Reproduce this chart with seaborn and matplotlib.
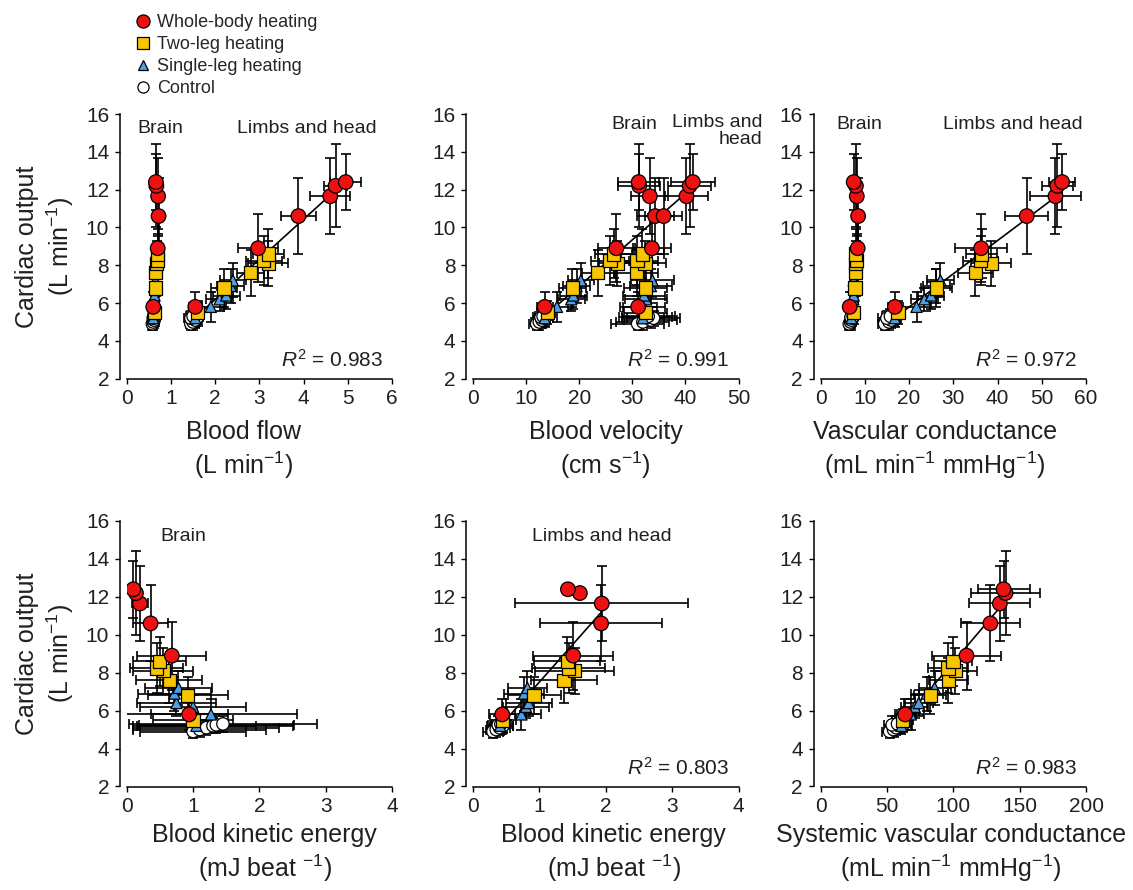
# cardiac output vs regional haemodynamics during heating:
# six panels, brain and limbs/head values with mean +/- SD bars

import seaborn as sns
import pandas as pd
import matplotlib.pyplot as plt
import numpy as np
from matplotlib.lines import Line2D

sns.set_style('ticks')
plt.rcParams['font.family'] = ['Liberation Sans', 'DejaVu Sans']
plt.rcParams['mathtext.fontset'] = 'custom'
plt.rcParams['mathtext.rm'] = 'Liberation Sans'
plt.rcParams['mathtext.it'] = 'Liberation Sans:italic'
plt.rcParams['mathtext.bf'] = 'Liberation Sans:bold'

# groups in drawing order (control at the back, whole-body on top)
groups = ['CT', 'SL', 'TL', 'WB']
group_names = {'WB': 'Whole-body heating', 'TL': 'Two-leg heating',
               'SL': 'Single-leg heating', 'CT': 'Control'}

# cardiac output (L/min), mean and SD
co_wb = [5.8, 8.9, 10.6, 11.65, 12.2, 12.4]
co_wb_err = [0.8, 1.8, 2.0, 2.0, 2.2, 1.5]
co_tl = [5.5, 6.8, 7.6, 8.1, 8.25, 8.6]
co_tl_err = [0.6, 1.0, 1.2, 1.2, 1.3, 1.3]
co_sl = [5.2, 5.8, 6.2, 6.4, 6.9, 7.2]
co_sl_err = [0.45, 0.8, 0.6, 0.7, 0.9, 0.9]
co_ct = [4.9, 5.0, 5.1, 5.2, 5.25, 5.3]
co_ct_err = [0.35, 0.4, 0.4, 0.4, 0.45, 0.4]

# blood flow (L/min)
flow_brain = {'WB': [0.60, 0.70, 0.72, 0.71, 0.67, 0.66],
              'TL': [0.63, 0.66, 0.66, 0.68, 0.70, 0.70],
              'SL': [0.60, 0.61, 0.62, 0.63, 0.64, 0.65],
              'CT': [0.58, 0.60, 0.62, 0.60, 0.63, 0.61]}
flow_brain_err = {'WB': [0.05, 0.06, 0.06, 0.06, 0.06, 0.06],
                  'TL': [0.06, 0.06, 0.06, 0.06, 0.06, 0.06],
                  'SL': [0.05, 0.05, 0.05, 0.05, 0.05, 0.05],
                  'CT': [0.06, 0.06, 0.06, 0.06, 0.06, 0.06]}
flow_limbs = {'WB': [1.55, 2.97, 3.88, 4.60, 4.72, 4.95],
              'TL': [1.60, 2.20, 2.80, 3.20, 3.10, 3.20],
              'SL': [1.55, 1.90, 2.10, 2.25, 2.35, 2.40],
              'CT': [1.45, 1.50, 1.55, 1.45, 1.60, 1.50]}
flow_limbs_err = {'WB': [0.15, 0.45, 0.40, 0.45, 0.25, 0.35],
                  'TL': [0.15, 0.30, 0.30, 0.45, 0.40, 0.35],
                  'SL': [0.15, 0.30, 0.30, 0.30, 0.30, 0.30],
                  'CT': [0.12, 0.15, 0.12, 0.15, 0.12, 0.15]}

# blood velocity (cm/s)
vel_brain = {'WB': [31.1, 33.7, 34.3, 33.3, 31.3, 31.2],
             'TL': [32.5, 32.5, 30.8, 32.4, 30.9, 31.9],
             'SL': [32.0, 32.2, 32.6, 32.2, 33.5, 33.8],
             'CT': [31.0, 32.0, 33.5, 34.0, 32.5, 33.0]}
vel_brain_err = {'WB': [3.5, 3.5, 3.5, 3.5, 4.0, 3.9],
                 'TL': [4.0, 4.0, 4.0, 4.0, 4.0, 4.0],
                 'SL': [4.0, 4.0, 4.0, 4.0, 4.0, 4.0],
                 'CT': [5.0, 5.0, 5.0, 5.0, 5.0, 5.0]}
vel_limbs = {'WB': [13.5, 27.0, 35.9, 40.2, 40.8, 41.4],
             'TL': [14.0, 18.7, 23.5, 27.2, 25.8, 26.5],
             'SL': [13.5, 15.8, 18.5, 18.9, 19.5, 20.3],
             'CT': [12.0, 12.5, 13.0, 13.5, 12.8, 13.2]}
vel_limbs_err = {'WB': [1.5, 3.5, 3.5, 4.0, 4.0, 4.2],
                 'TL': [1.5, 2.5, 3.0, 3.5, 3.5, 3.5],
                 'SL': [1.5, 2.0, 2.5, 2.5, 2.5, 2.5],
                 'CT': [1.5, 1.5, 1.5, 1.5, 1.5, 1.5]}

# vascular conductance (mL/min/mmHg)
vc_brain = {'WB': [6.6, 8.4, 8.5, 8.2, 8.0, 7.5],
            'TL': [7.5, 7.8, 8.0, 8.0, 8.2, 8.0],
            'SL': [7.0, 7.2, 7.4, 7.5, 7.6, 7.5],
            'CT': [6.5, 6.8, 7.0, 7.2, 6.9, 7.4]}
vc_brain_err = {'WB': [0.8, 0.8, 0.8, 0.8, 0.8, 0.8],
                'TL': [0.8, 0.8, 0.8, 0.8, 0.8, 0.8],
                'SL': [0.8, 0.8, 0.8, 0.8, 0.8, 0.8],
                'CT': [1.0, 1.0, 1.0, 1.0, 1.0, 1.0]}
vc_limbs = {'WB': [16.8, 36.3, 46.6, 53.1, 53.5, 54.6],
            'TL': [17.5, 26.2, 35.0, 38.6, 36.2, 36.4],
            'SL': [16.8, 21.7, 23.5, 25.0, 26.2, 27.1],
            'CT': [14.5, 15.5, 16.0, 15.0, 16.5, 15.8]}
vc_limbs_err = {'WB': [1.5, 5.8, 4.9, 5.8, 3.5, 3.0],
                'TL': [1.5, 3.5, 4.0, 4.5, 4.0, 3.5],
                'SL': [1.5, 3.0, 3.0, 3.0, 3.0, 3.0],
                'CT': [1.5, 2.0, 1.5, 2.0, 1.5, 2.0]}

# blood kinetic energy (mJ/beat); nan = no error bar shown
ke_brain = {'WB': [0.94, 0.68, 0.36, 0.20, 0.14, 0.10],
            'TL': [1.00, 0.92, 0.64, 0.55, 0.45, 0.50],
            'SL': [1.05, 1.27, 1.00, 0.75, 0.72, 0.78],
            'CT': [1.00, 1.10, 1.20, 1.30, 1.35, 1.45]}
ke_brain_err = {'WB': [0.58, 0.52, 0.26, 0.12, 0.08, 0.06],
                'TL': [0.60, 0.60, 0.50, 0.45, 0.40, 0.40],
                'SL': [0.90, 1.30, 0.80, 0.60, 0.55, 0.50],
                'CT': [0.80, 1.00, 1.10, 1.20, 1.17, 1.42]}
ke_limbs = {'WB': [0.44, 1.51, 1.93, 1.94, 1.61, 1.43],
            'TL': [0.45, 0.92, 1.37, 1.53, 1.44, 1.42],
            'SL': [0.41, 0.73, 0.80, 0.84, 0.77, 0.82],
            'CT': [0.30, 0.35, 0.40, 0.45, 0.38, 0.42]}
ke_limbs_err = {'WB': [0.20, 0.60, 0.92, 1.30, np.nan, np.nan],
                'TL': [0.20, 0.40, 0.50, 0.60, 0.55, 0.50],
                'SL': [0.20, 0.30, 0.35, 0.35, 0.30, 0.30],
                'CT': [0.15, 0.15, 0.15, 0.15, 0.15, 0.15]}

# systemic vascular conductance (mL/min/mmHg)
svc = {'WB': [63.8, 110.0, 128.0, 135.1, 139.4, 137.9],
       'TL': [62.0, 82.6, 96.4, 101.6, 96.0, 99.8],
       'SL': [61.0, 68.0, 71.0, 74.0, 80.0, 86.0],
       'CT': [52.0, 55.0, 57.0, 60.0, 54.0, 58.0]}
svc_err = {'WB': [8, 26, 22, 23, 26, 19.6],
           'TL': [8, 12, 15, 16, 15, 14],
           'SL': [8, 10, 10, 11, 12, 12],
           'CT': [6, 6, 6, 6, 6, 6]}

r2_values = ['0.983', '0.991', '0.972', None, '0.803', '0.983']

co = {'WB': co_wb, 'TL': co_tl, 'SL': co_sl, 'CT': co_ct}
co_err = {'WB': co_wb_err, 'TL': co_tl_err, 'SL': co_sl_err, 'CT': co_ct_err}


def make_df(xd, xerrd):
    rows = []
    for g in groups:
        for i in range(len(xd[g])):
            e = xerrd[g][i]
            rows.append({'group': g, 'x': xd[g][i], 'xerr': e, 'co': co[g][i],
                         'co_err': np.nan if np.isnan(e) else co_err[g][i]})
    return pd.DataFrame(rows)


pal = {'WB': '#ee1111', 'TL': '#f7c600', 'SL': '#4d9ee8', 'CT': 'white'}
mk = {'WB': 'o', 'TL': 's', 'SL': '^', 'CT': 'o'}
sz = {'WB': 110, 'TL': 90, 'SL': 65, 'CT': 80}
txt_col = '#231f20'

# (series, with regression line), xlim, xticks, xlabel, xlabel x-pos
panels = [
    ([(flow_brain, flow_brain_err, False), (flow_limbs, flow_limbs_err, True)],
     (0, 6), np.arange(0, 7, 1), 'Blood flow\n(L min$^{-1}$)', 0.44),
    ([(vel_brain, vel_brain_err, False), (vel_limbs, vel_limbs_err, True)],
     (0, 50), np.arange(0, 51, 10), 'Blood velocity\n(cm s$^{-1}$)', 0.50),
    ([(vc_brain, vc_brain_err, False), (vc_limbs, vc_limbs_err, True)],
     (0, 60), np.arange(0, 61, 10), 'Vascular conductance\n(mL min$^{-1}$ mmHg$^{-1}$)', 0.43),
    ([(ke_brain, ke_brain_err, False)],
     (0, 4), np.arange(0, 5, 1), 'Blood kinetic energy\n(mJ beat $^{-1}$)', 0.52),
    ([(ke_limbs, ke_limbs_err, True)],
     (0, 4), np.arange(0, 5, 1), 'Blood kinetic energy\n(mJ beat $^{-1}$)', 0.53),
    ([(svc, svc_err, True)],
     (0, 200), np.arange(0, 201, 50), 'Systemic vascular conductance\n(mL min$^{-1}$ mmHg$^{-1}$)', 0.49),
]

W, H = 1133, 890
fig = plt.figure(figsize=(W / 100, H / 100), dpi=100)
lefts = [126.7, 473.0, 820.5]
tops = [114.0, 521.0]
bottoms = [378.7, 786.5]

axs = []
for p, (series, xlim, xticks, xlabel, xlab_x) in enumerate(panels):
    row, col = p // 3, p % 3
    ax = fig.add_axes([lefts[col] / W, 1 - bottoms[row] / H,
                       265.5 / W, (bottoms[row] - tops[row]) / H])
    axs.append(ax)
    for xd, xerrd, fit in series:
        df = make_df(xd, xerrd)
        ax.errorbar(df['x'], df['co'], xerr=df['xerr'], yerr=df['co_err'], fmt='none',
                    ecolor='k', elinewidth=1.2, capsize=3.5, capthick=1.2, zorder=1)
        if fit:
            sns.regplot(data=df, x='x', y='co', scatter=False, ci=None, truncate=True,
                        color='k', line_kws={'lw': 1.2, 'zorder': 2}, ax=ax)
        sns.scatterplot(data=df, x='x', y='co', hue='group', style='group', size='group',
                        palette=pal, markers=mk, sizes=sz, hue_order=groups,
                        edgecolor='k', linewidth=0.9, legend=False, zorder=3, ax=ax)

    ax.set_xlim(xlim)
    ax.set_ylim(2, 16)
    ax.set_xticks(xticks)
    ax.set_yticks(np.arange(2, 17, 2))
    ax.tick_params(labelsize=15, length=3.6, width=1.0, pad=4, colors='k', labelcolor=txt_col)
    sns.despine(ax=ax)
    ax.spines['left'].set_position(('outward', 5))
    for s in ['left', 'bottom']:
        ax.spines[s].set_linewidth(1.1)
        ax.spines[s].set_color('k')

    ax.set_xlabel(xlabel, fontsize=18, linespacing=1.25, color=txt_col, va='top')
    ax.xaxis.set_label_coords(xlab_x, -0.155 if row == 0 else -0.137)
    if col == 0:
        ax.set_ylabel('Cardiac output\n(L min$^{-1}$)', fontsize=18, linespacing=1.25, color=txt_col)
        ax.yaxis.set_label_coords(-0.19, 0.5)
    else:
        ax.set_ylabel('')

    if r2_values[p] is not None:
        ax.text(0.965, 0.07, r'$\mathit{R}^2$ = ' + r2_values[p], transform=ax.transAxes,
                ha='right', va='center', fontsize=15, color=txt_col)

# region labels
lab = dict(fontsize=14, color=txt_col, va='center', ha='center')
axs[0].text(0.128, 0.947, 'Brain', transform=axs[0].transAxes, **lab)
axs[0].text(0.679, 0.947, 'Limbs and head', transform=axs[0].transAxes, **lab)
axs[1].text(0.609, 0.962, 'Brain', transform=axs[1].transAxes, **lab)
axs[1].text(1.09, 1.0, 'Limbs and\nhead', transform=axs[1].transAxes, fontsize=14,
            color=txt_col, ha='right', va='top', linespacing=1.0)
axs[2].text(0.147, 0.96, 'Brain', transform=axs[2].transAxes, **lab)
axs[2].text(0.726, 0.96, 'Limbs and head', transform=axs[2].transAxes, **lab)
axs[3].text(0.213, 0.94, 'Brain', transform=axs[3].transAxes, **lab)
axs[4].text(0.485, 0.943, 'Limbs and head', transform=axs[4].transAxes, **lab)

# legend
order = ['WB', 'TL', 'SL', 'CT']
handles = [Line2D([], [], ls='none', marker=mk[g], markerfacecolor=pal[g], markeredgecolor='k',
                  markeredgewidth=0.9, markersize=np.sqrt(sz[g]) * 0.9) for g in order]
fig.legend(handles, [group_names[g] for g in order], loc='upper left',
           bbox_to_anchor=(0.118, 0.984), frameon=False, fontsize=13, handlelength=1.0,
           handletextpad=0.3, labelspacing=0.28, borderpad=0, borderaxespad=0)

fig.savefig('out.png', dpi=100)
